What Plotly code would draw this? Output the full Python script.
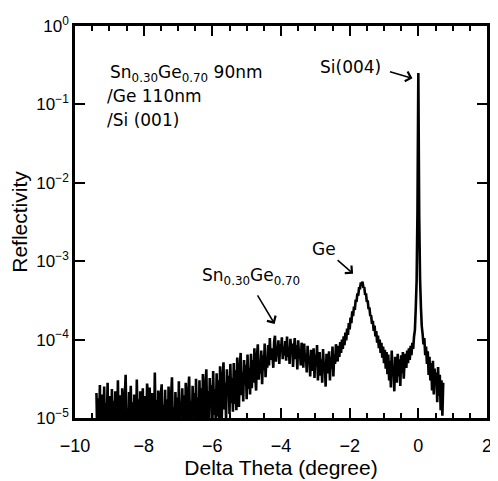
import plotly.graph_objects as go

# Scan: first angle and step (degree)
theta_start = -9.375
theta_step = 0.025

# log10(reflectivity) x 100, rows of 0.5 degree
log_refl_x100 = [
    # -9.375 .. -8.9
    -468, -530, -475, -512, -458, -545, -490, -470, -522, -460, -538, -481, -505, -455, -550, -472, -495, -527, -463, -510,
    # -8.875 .. -8.4
    -478, -541, -466, -503, -520, -452, -533, -485, -471, -556, -462, -498, -530, -474, -445, -515, -488, -543, -467, -500,
    # -8.375 .. -7.9
    -459, -525, -480, -548, -470, -492, -536, -451, -507, -476, -560, -466, -497, -528, -462, -540, -482, -472, -519, -456,
    # -7.875 .. -7.4
    -473, -535, -461, -502, -547, -468, -488, -524, -442, -514, -477, -553, -465, -494, -531, -470, -457, -545, -483, -509,
    # -7.375 .. -6.9
    -464, -527, -476, -551, -460, -499, -533, -471, -448, -518, -486, -542, -467, -505, -474, -538, -453, -521, -480, -496,
    # -6.875 .. -6.4
    -462, -520, -471, -537, -455, -498, -528, -466, -447, -512, -478, -534, -459, -493, -468, -525, -450, -508, -474, -530,
    # -6.375 .. -5.9
    -452, -510, -462, -523, -444, -489, -515, -457, -438, -501, -466, -519, -449, -485, -458, -512, -440, -496, -463, -508,
    # -5.875 .. -5.4
    -443, -498, -452, -506, -434, -478, -501, -447, -429, -489, -455, -503, -438, -472, -446, -495, -431, -481, -449, -492,
    # -5.375 .. -4.9
    -430, -482, -439, -490, -423, -465, -486, -434, -417, -471, -441, -479, -426, -458, -432, -476, -419, -463, -436, -470,
    # -4.875 .. -4.4
    -418, -462, -426, -455, -411, -447, -465, -421, -406, -451, -428, -443, -414, -457, -420, -439, -405, -448, -424, -436,
    # -4.375 .. -3.9
    -407, -433, -398, -426, -411, -419, -436, -403, -395, -428, -413, -416, -401, -431, -406, -414, -397, -425, -409, -420,
    # -3.875 .. -3.4
    -402, -427, -396, -422, -410, -431, -399, -417, -405, -435, -412, -398, -425, -407, -438, -401, -420, -414, -433, -404,
    # -3.375 .. -2.9
    -410, -436, -405, -428, -418, -442, -408, -431, -421, -447, -413, -426, -440, -411, -449, -419, -433, -407, -452, -423,
    # -2.875 .. -2.4
    -416, -446, -425, -455, -412, -439, -428, -460, -418, -443, -431, -415, -452, -422, -437, -409, -447, -419, -431, -406,
    # -2.375 .. -1.9
    -414, -428, -408, -422, -403, -417, -400, -412, -396, -407, -391, -401, -386, -394, -379, -387, -372, -379, -364, -370,
    # -1.875 .. -1.4  (Ge peak)
    -358, -362, -349, -352, -341, -344, -333, -336, -327, -331, -326, -334, -333, -343, -341, -352, -350, -361, -359, -370,
    # -1.375 .. -0.9
    -369, -380, -376, -389, -382, -396, -389, -404, -395, -411, -400, -417, -404, -423, -409, -430, -413, -437, -416, -444,
    # -0.875 .. -0.4
    -419, -452, -427, -461, -414, -445, -433, -466, -422, -440, -455, -418, -447, -425, -459, -420, -443, -416, -450, -428,
    # -0.375 .. 0.1  (Si peak at 0)
    -418, -436, -414, -430, -411, -426, -408, -420, -404, -412, -396, -388, -360, -325, -235, -60, -240, -322, -358, -383,
    # 0.125 .. 0.6
    -393, -406, -398, -420, -409, -431, -415, -445, -422, -452, -430, -465, -427, -470, -437, -458, -442, -480, -435, -472,
    # 0.625 .. 0.725
    -445, -490, -452, -497, -455,
]

theta = [theta_start + i * theta_step for i in range(len(log_refl_x100))]
reflectivity = [10 ** (v / 100.0) for v in log_refl_x100]

y_tick_vals = [1e-5, 1e-4, 1e-3, 1e-2, 1e-1, 1]
y_tick_text = ["10<sup>−5</sup>", "10<sup>−4</sup>", "10<sup>−3</sup>",
               "10<sup>−2</sup>", "10<sup>−1</sup>", "10<sup>0</sup>"]

fig = go.Figure()
fig.add_trace(go.Scatter(x=theta, y=reflectivity, mode="lines",
                         line=dict(color="black", width=2.6, simplify=False),
                         showlegend=False, hoverinfo="skip"))

TXT = dict(family="DejaVu Sans", size=17, color="black")
TICK = dict(family="Liberation Sans", size=18, color="black")

fig.update_layout(
    width=490, height=473,
    margin=dict(l=67, r=6, t=14, b=54),
    paper_bgcolor="white", plot_bgcolor="white",
    xaxis=dict(range=[-10, 2], dtick=2, tick0=0, ticks="inside", ticklen=10,
               tickwidth=2, tickcolor="black", showline=True, linecolor="black",
               linewidth=2.5, mirror="ticks", showgrid=False, zeroline=False,
               tickfont=TICK, ticklabelstandoff=10,
               minor=dict(dtick=0.5, tick0=0, ticks="inside", ticklen=5,
                          tickwidth=1.5, tickcolor="black", showgrid=False),
               title=dict(text="Delta Theta (degree)",
                          font=dict(family="Liberation Sans", size=21, color="black"),
                          standoff=4)),
    yaxis=dict(type="log", range=[-5, 0], tickvals=y_tick_vals, ticktext=y_tick_text,
               ticks="inside", ticklen=10, tickwidth=2, tickcolor="black",
               showline=True, linecolor="black", linewidth=2.5, mirror="ticks",
               showgrid=False, zeroline=False,
               tickfont=dict(family="Liberation Sans", size=17, color="black"),
               title=dict(text="Reflectivity",
                          font=dict(family="Liberation Sans", size=21, color="black"),
                          standoff=4)),
)

# text labels
fig.add_annotation(x=-9.03, y=-0.605, xanchor="left", yanchor="middle",
                   text="Sn<sub>0.30</sub>Ge<sub>0.70</sub> 90nm", showarrow=False, font=TXT)
fig.add_annotation(x=-9.12, y=-0.889, xanchor="left", yanchor="middle",
                   text="/Ge 110nm", showarrow=False, font=TXT)
fig.add_annotation(x=-9.12, y=-1.198, xanchor="left", yanchor="middle",
                   text="/Si (001)", showarrow=False, font=TXT)
fig.add_annotation(x=-1.04, y=-0.52, xanchor="right", yanchor="middle",
                   text="Si(004)", showarrow=False, font=TXT)
fig.add_annotation(x=-2.74, y=-2.84, xanchor="center", yanchor="middle",
                   text="Ge", showarrow=False, font=TXT)
fig.add_annotation(x=-4.88, y=-3.19, xanchor="center", yanchor="middle",
                   text="Sn<sub>0.30</sub>Ge<sub>0.70</sub>", showarrow=False, font=TXT)

# arrows
for hx, hy, ax, ay in [(-0.17, -0.667, -24, -7), (-1.90, -3.16, -17, -15), (-4.185, -3.80, -18, -30)]:
    fig.add_annotation(x=hx, y=hy, ax=ax, ay=ay, text="", showarrow=True,
                       arrowhead=4, arrowsize=1.3, arrowwidth=1.5, arrowcolor="black")

fig.write_html("out.html")
